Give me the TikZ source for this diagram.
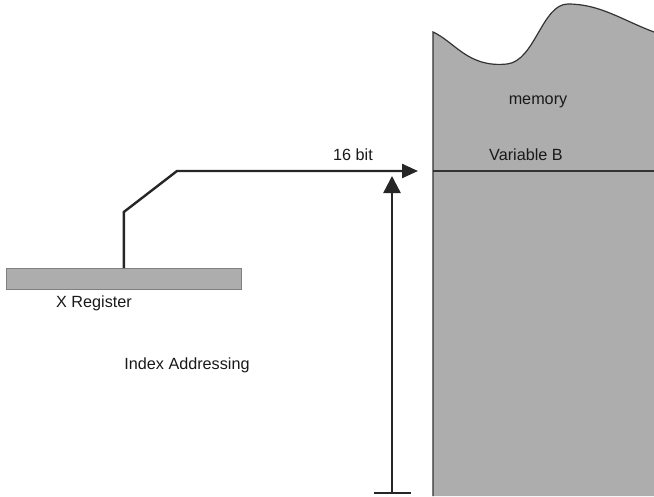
\documentclass[tikz,border=0pt]{standalone}
\usepackage{fontspec}
\setmainfont{Liberation Sans}
\usetikzlibrary{arrows.meta}
\begin{document}
\begin{tikzpicture}[x=1pt,y=-1pt,
  lbl/.style={font=\fontsize{16.2}{19}\selectfont, text=black!90, inner sep=0pt},
  wire/.style={line width=2.4pt, draw=black!85},
  fillgray/.style={fill=gray!64}]
\useasboundingbox (0,0) rectangle (654,496);
% memory block
\path[fillgray] (433,496) -- (433,32)
  .. controls (455,42) and (468,68) .. (507,64)
  .. controls (535,61) and (542,4) .. (568,4)
  .. controls (600,4) and (622,20) .. (654,32) -- (654,496) -- cycle;
\draw[line width=1.2pt, black!80] (433,496) -- (433,32)
  .. controls (455,42) and (468,68) .. (507,64)
  .. controls (535,61) and (542,4) .. (568,4)
  .. controls (600,4) and (622,20) .. (654,32);
\coordinate (mL) at (433,171);
\coordinate (mR) at (654,171);
\draw[line width=2pt, black!80] (mL) -- (mR);
\node[lbl] (memlbl) at (538,102) {memory};
\node[lbl] (varb) at (526,155) {Variable B};
% register
\node[fillgray, draw=black!50, line width=0.6pt, minimum width=235pt, minimum height=21pt, inner sep=0pt, anchor=north west] (reg) at (6,268) {};
\node[lbl] (xreg) at (94,303) {X Register};
\node[lbl] (idx) at (187,365) {Index Addressing};
\node[lbl] (bits) at (353,155) {16 bit};
% address path
\coordinate (k1) at (reg.north |- 0,212);
\coordinate (k2) at (177,171);
\coordinate (tipA) at (418,171);
\draw[wire, -{Triangle[length=16pt,width=14pt]}] (reg.north) -- (k1) -- (k2) -- (tipA);
% offset arrow
\coordinate (vb) at (392,493);
\coordinate (vt) at (392,176);
\draw[wire, -{Triangle[length=17pt,width=17pt]}] (vb) -- (vt);
\coordinate (tL) at (374,493);
\coordinate (tR) at (411,493);
\draw[line width=1.2pt, black!85] (tL) -- (tR);
\end{tikzpicture}
\end{document}
